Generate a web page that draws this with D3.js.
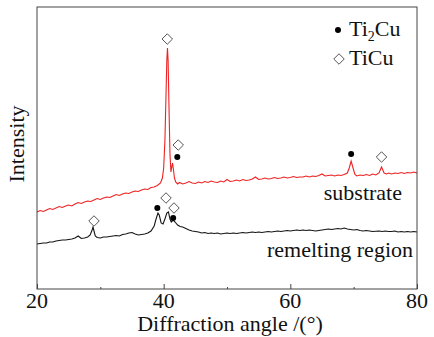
<!DOCTYPE html>
<html><head><meta charset="utf-8">
<script src="https://cdn.jsdelivr.net/npm/d3@7"></script>
<style>body{margin:0;background:#fff}svg{display:block}</style>
</head><body>
<svg id="c" width="434" height="337"></svg>
<script>
// ---- data (angle in degrees, intensity in arbitrary units) ----
const xTicks = [20, 40, 60, 80];
const xMinorTicks = [30, 50, 70];
const substrate = [
[20,77],[20.5,78.5],[21,77.5],[21.5,79],[22,80.5],[22.5,79.5],[23,81],[23.5,82.5],[24,81.5],[24.5,83],
[25,84],[25.5,83],[26,85],[26.5,86.5],[27,85.5],[27.5,87],[28,88],[28.5,87.5],[29,89],[29.5,90.5],
[30,89.5],[30.5,91],[31,92],[31.5,91.5],[32,93],[32.5,94.5],[33,93.5],[33.5,95],[34,96],[34.5,95.5],
[35,97],[35.5,98],[36,97.5],[36.5,99],[37,100],[37.5,99.5],[38,101.5],[38.5,102],[39,103.5],[39.5,106],
[39.8,111],[40.0,121],[40.2,149],[40.35,189],[40.5,229],[40.6,241],[40.7,229],[40.85,179],[41.0,134],[41.15,117],
[41.3,123],[41.4,126],[41.55,119],[41.7,111],[41.9,107],[42.2,105],[42.5,106.5],[43,105],[43.5,106],[44,107.5],
[44.5,106],[45,105.5],[45.5,107],[46,106],[46.5,107.5],[47,106.5],[47.5,108],[48,107],[48.5,106.5],[49,108],
[49.5,107],[50,109.5],[50.5,107.5],[51,108],[51.5,109],[52,108],[52.5,109.5],[53,108.5],[53.5,109],[54,110],
[54.5,112],[55,109.5],[55.5,110],[56,111],[56.5,110],[57,110.5],[57.5,111.5],[58,110.5],[58.5,111],[59,112],
[59.5,111],[60,111.5],[60.5,112.5],[61,111.5],[61.5,112],[62,112],[62.5,113],[63,112],[63.5,113],[64,112.5],
[64.5,113.5],[65,115],[65.5,113],[66,113.5],[66.5,114],[67,113],[67.5,114],[68,113.5],[68.5,114.5],[69,116],
[69.3,121],[69.6,128],[69.9,121],[70.2,114.5],[70.5,113],[71,114],[71.5,113.5],[72,114.5],[72.5,113.5],[73,115],
[73.5,114],[74,116],[74.4,122],[74.8,116],[75.2,115],[75.5,116],[76,115],[76.5,116],[77,115.5],[77.5,116.5],
[78,115.5],[78.5,116.5],[79,116],[79.5,117],[80,116]
];
const remelting = [
[20,45],[20.5,45.5],[21,46],[21.5,46],[22,47],[22.5,47],[23,48],[23.5,48.5],[24,49],[24.5,49],
[25,49.5],[25.5,50],[26,51],[26.5,53],[26.8,51.5],[27,50.5],[27.5,51],[28,52],[28.4,54],[28.7,59],
[28.85,62],[29.0,58],[29.2,53],[29.5,51.5],[30,51],[30.5,52],[31,52],[31.5,52.5],[32,53],[32.5,53.5],
[33,53],[33.5,54.5],[34,55],[34.5,56],[35,56.5],[35.5,55],[36,54],[36.5,54.5],[37,55],[37.5,56],
[38,58],[38.5,63],[38.8,70],[39.1,76],[39.3,74],[39.6,66],[39.9,65],[40.2,70],[40.5,76],[40.75,77],
[41.0,70],[41.2,67],[41.5,69],[41.8,67],[42.2,64],[42.6,62.5],[43,62],[43.5,60.5],[44,59],[44.5,58],
[45,57.5],[45.5,57],[46,56],[46.5,56.5],[47,55.5],[47.5,56],[48,55.5],[48.5,56],[49,55],[49.5,55.5],
[50,56],[50.5,55.5],[51,56],[51.5,55.5],[52,56],[52.5,56.5],[53,56],[53.5,56.5],[54,57],[54.5,56.5],
[55,57],[55.5,56.5],[56,57],[56.5,57.5],[57,57],[57.5,57.5],[58,58],[58.5,57.5],[59,58],[59.5,58.5],
[60,58],[60.5,58.5],[61,59],[61.5,58.5],[62,59],[62.5,58.5],[63,59],[63.5,58.5],[64,58],[64.5,58.5],
[65,59],[65.5,59.5],[66,60],[66.5,59.5],[67,60],[67.5,60.5],[68,60],[68.5,61],[69,60],[69.5,59.5],
[70,59],[70.5,59.5],[71,58.5],[71.5,58],[72,58.5],[72.5,58],[73,57.5],[74,58],[74.5,57.5],[75,58],
[75.5,57.5],[76,57.5],[76.5,58],[77,57],[77.5,57.5],[78,57],[78.5,57.5],[79,57],[79.5,57.5],[80,57]
];
// phase markers: [angle, intensity]
const ti2cuMarks = [[42.15,132],[69.6,135],[39.0,81],[41.5,71]];
const ticuMarks = [[40.57,250],[42.3,144],[74.4,132],[29.0,68],[40.37,91],[41.63,81]];
const seriesLabels = ["substrate", "remelting region"];
const legendLabels = ["Ti", "TiCu"];

// ---- layout ----
const svg = d3.select("#c");
const m = {l:37, r:417, t:7, b:289};
const FS = 22;
const x = d3.scaleLinear().domain([20,80]).range([m.l, m.r]);
const y = d3.scaleLinear().domain([0,282]).range([m.b, m.t]);

const line = d3.line().x(d=>x(d[0])).y(d=>y(d[1]));
svg.append("path").datum(substrate).attr("d", line)
  .attr("fill","none").attr("stroke","#ee2222").attr("stroke-width",1.1);
svg.append("path").datum(remelting).attr("d", line)
  .attr("fill","none").attr("stroke","#151515").attr("stroke-width",1.1);

// markers
svg.append("g").selectAll("circle").data(ti2cuMarks).join("circle")
  .attr("cx", d=>x(d[0])).attr("cy", d=>y(d[1])).attr("r", 3).attr("fill","#000");
const sym = d3.symbol().type(d3.symbolDiamond2).size(70);
svg.append("g").selectAll("path").data(ticuMarks).join("path")
  .attr("transform", d=>`translate(${x(d[0])},${y(d[1])})`)
  .attr("d", sym).attr("fill","#fff").attr("stroke","#555").attr("stroke-width",1);

// frame
svg.append("rect").attr("x",m.l).attr("y",m.t).attr("width",m.r-m.l).attr("height",m.b-m.t)
  .attr("fill","none").attr("stroke","#444").attr("stroke-width",1);

// x axis ticks (major + minor, inward)
const ax = svg.append("g").attr("transform",`translate(0,${m.b})`)
  .call(d3.axisBottom(x).tickValues(xTicks).tickSizeInner(-5).tickSizeOuter(0).tickFormat(""));
const axm = svg.append("g").attr("transform",`translate(0,${m.b})`)
  .call(d3.axisBottom(x).tickValues(xMinorTicks).tickSizeInner(-2).tickSizeOuter(0).tickFormat(""));
[ax, axm].forEach(g => {
  g.select(".domain").remove();
  g.attr("font-family", null).attr("font-size", null);
  g.selectAll("text").remove();
  g.selectAll("line").attr("stroke","#444");
});

// all texts: plain attributes, Times-metric serif
function txt(xp, yp, anchor, s) {
  const t = svg.append("text").attr("x",xp).attr("y",yp).attr("fill","#111")
    .attr("font-family","Liberation Serif").attr("font-size",FS);
  if (anchor !== "start") t.attr("text-anchor",anchor);
  if (s) t.text(s);
  return t;
}
// tick labels from the scale
xTicks.forEach(v => txt(x(v), 308, "middle", String(v)));
// titles
txt(230, 331, "middle", "Diffraction angle /(°)");
txt(0, 0, "middle", "Intensity").attr("x",null).attr("y",null)
  .attr("transform","translate(24,144) rotate(-90)");

// series labels
txt(402, 200, "end", seriesLabels[0]);
txt(413, 257, "end", seriesLabels[1]);

// legend
svg.append("circle").attr("cx",338).attr("cy",30).attr("r",3).attr("fill","#000");
const t1 = txt(349, 36, "start", null);
t1.append("tspan").text(legendLabels[0]);
t1.append("tspan").attr("font-size",14).attr("dy",5).text("2");
t1.append("tspan").attr("dy",-5).text("Cu");
svg.append("path").attr("transform","translate(339,59)").attr("d",sym)
  .attr("fill","#fff").attr("stroke","#555").attr("stroke-width",1);
txt(349, 65, "start", legendLabels[1]);
</script>
</body></html>
